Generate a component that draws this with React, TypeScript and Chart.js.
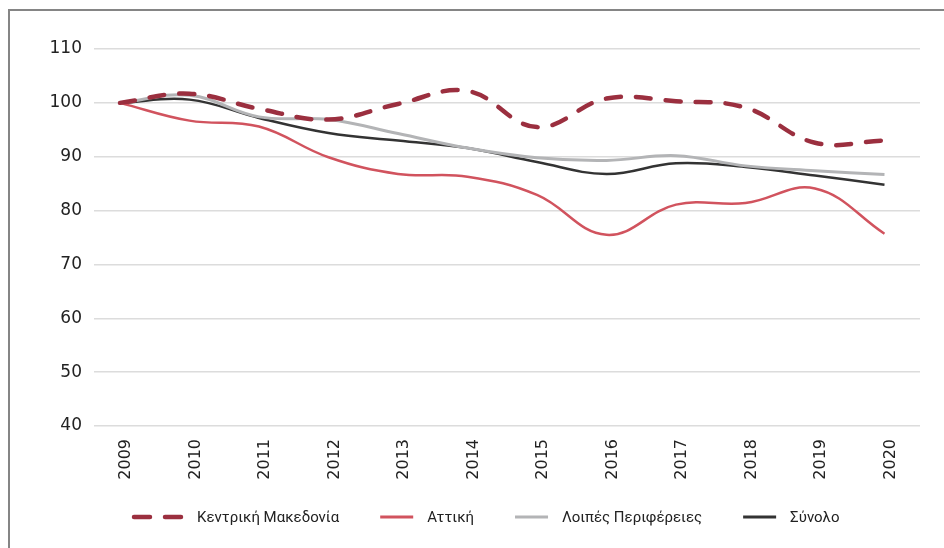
import React, { useEffect, useRef } from "react";
import { Chart, registerables } from "chart.js";

Chart.register(...registerables);

const YEARS = [2009, 2010, 2011, 2012, 2013, 2014, 2015, 2016, 2017, 2018, 2019, 2020];
const Y_TICKS = [40, 50, 60, 70, 80, 90, 100, 110];

const KENTRIKI = [100, 101.7, 98.9, 96.9, 99.8, 102.2, 95.5, 100.8, 100.3, 99.1, 92.6, 93.0];
const ATTIKI = [100, 96.7, 95.6, 89.9, 86.8, 86.3, 82.9, 75.5, 81.1, 81.4, 84.1, 75.7];
const LOIPES = [100, 101.4, 97.4, 96.9, 94.3, 91.6, 89.8, 89.3, 90.2, 88.3, 87.4, 86.7];
const SYNOLO = [100, 100.6, 97.2, 94.4, 93.0, 91.6, 89.0, 86.8, 88.8, 88.1, 86.5, 84.8];

const LABELS = ["Κεντρική Μακεδονία", "Αττική", "Λοιπές Περιφέρειες", "Σύνολο"];

const legendPlugin = {
  id: "customLegend",
  afterDraw(chart: any) {
    const ctx = chart.ctx;
    ctx.save();
    ctx.font = "15px Roboto";
    ctx.textBaseline = "middle";
    ctx.textAlign = "left";
    let x = 132;
    const y = 517;
    chart.data.datasets.forEach((ds: any) => {
      const dashed = ds.borderDash && ds.borderDash.length > 0;
      const w = dashed ? 51 : 33;
      ctx.strokeStyle = ds.borderColor;
      ctx.beginPath();
      if (dashed) {
        ctx.lineWidth = 4.5;
        ctx.lineCap = "round";
        ctx.setLineDash([16, 15]);
        ctx.moveTo(x + 2, y);
        ctx.lineTo(x + w - 2, y);
      } else {
        ctx.lineWidth = 3;
        ctx.lineCap = "butt";
        ctx.setLineDash([]);
        ctx.moveTo(x, y);
        ctx.lineTo(x + w, y);
      }
      ctx.stroke();
      ctx.setLineDash([]);
      ctx.fillStyle = "#222222";
      ctx.fillText(ds.label, x + w + 14, y + 1);
      x += w + 14 + ctx.measureText(ds.label).width + 41;
    });
    ctx.restore();
  },
};

export default function App() {
  const canvasRef = useRef<HTMLCanvasElement>(null);

  useEffect(() => {
    if (!canvasRef.current) return;
    const mk = (vals: number[]) => vals.map((v, i) => ({ x: YEARS[i], y: v }));
    const chart = new Chart(canvasRef.current, {
      type: "line",
      data: {
        datasets: [
          {
            label: LABELS[0],
            data: mk(KENTRIKI),
            borderColor: "#9b2f3f",
            borderWidth: 4.5,
            borderDash: [15, 15],
            borderCapStyle: "round",
            pointRadius: 0,
            tension: 0.4,
            fill: false,
          },
          {
            label: LABELS[1],
            data: mk(ATTIKI),
            borderColor: "#d1535e",
            borderWidth: 2.5,
            pointRadius: 0,
            tension: 0.4,
            fill: false,
          },
          {
            label: LABELS[2],
            data: mk(LOIPES),
            borderColor: "#b3b4b6",
            borderWidth: 3,
            pointRadius: 0,
            tension: 0.4,
            fill: false,
          },
          {
            label: LABELS[3],
            data: mk(SYNOLO),
            borderColor: "#333333",
            borderWidth: 2.5,
            pointRadius: 0,
            tension: 0.4,
            fill: false,
          },
        ],
      },
      options: {
        responsive: false,
        animation: false,
        layout: { padding: { top: 49, right: 24, left: 0, bottom: 0 } },
        plugins: {
          legend: { display: false },
          tooltip: { enabled: false },
        },
        scales: {
          x: {
            type: "linear",
            min: 2008.626,
            max: 2020.511,
            grid: { display: false, drawTicks: false },
            border: { display: false },
            afterBuildTicks: (scale: any) => {
              scale.ticks = YEARS.map((v) => ({ value: v }));
            },
            afterFit: (scale: any) => {
              scale.height = 122;
            },
            ticks: {
              autoSkip: false,
              minRotation: 90,
              maxRotation: 90,
              padding: 13,
              labelOffset: 6,
              color: "#222222",
              font: { family: "DejaVu Sans", size: 16 },
              callback: (v: any) => String(v),
            },
          },
          y: {
            min: 40,
            max: 110,
            afterBuildTicks: (scale: any) => {
              scale.ticks = Y_TICKS.map((v) => ({ value: v }));
            },
            afterFit: (scale: any) => {
              scale.width = 94;
            },
            grid: { color: "#dcdcdc", lineWidth: 1.5, drawTicks: false },
            border: { display: false },
            ticks: {
              padding: 12,
              color: "#222222",
              font: { family: "DejaVu Sans", size: 17 },
              callback: (v: any) => String(v),
            },
          },
        },
      },
      plugins: [legendPlugin],
    } as any);
    return () => chart.destroy();
  }, []);

  return (
    <div>
      <div
        style={{
          position: "absolute",
          left: 8,
          top: 9,
          width: 936,
          height: 539,
          boxSizing: "border-box",
          borderTop: "2px solid #858585",
          borderLeft: "2px solid #858585",
        }}
      />
      <canvas
        ref={canvasRef}
        width={944}
        height={548}
        style={{ position: "absolute", left: 0, top: 0, width: 944, height: 548 }}
      />
    </div>
  );
}
